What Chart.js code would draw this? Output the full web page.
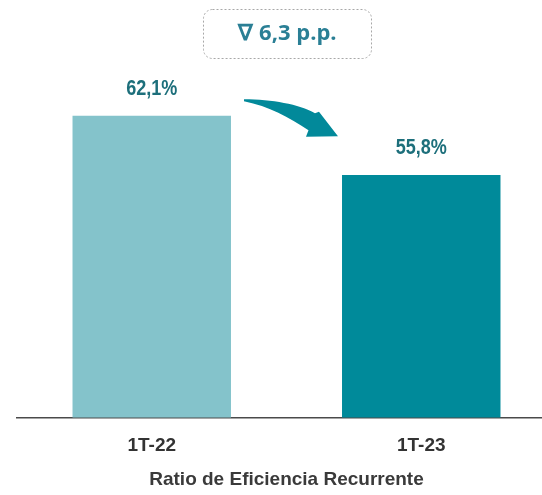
<!DOCTYPE html>
<html>
<head>
<meta charset="utf-8">
<script src="https://cdn.jsdelivr.net/npm/chart.js@4/dist/chart.umd.min.js"></script>
<style>
  html, body { margin: 0; padding: 0; background: #fff; overflow: hidden; }
  #wrap { width: 542px; height: 495px; overflow: hidden; }
</style>
</head>
<body>
<div id="wrap"><canvas id="c" width="556" height="495"></canvas></div>
<script>
const categories = ['1T-22', '1T-23']
const values = [62.1, 55.8]
const valueLabels = ['62,1%', '55,8%']
const deltaLabel = '∇ 6,3 p.p.'
const axisTitle = 'Ratio de Eficiencia Recurrente'

const SANS = '"Liberation Sans", Arial, sans-serif'
const LABEL_COLOR = '#1d6f7b'
const ARROW_COLOR = '#02899a'

// narrow look: draw Liberation Sans squeezed horizontally
function narrowText(ctx, text, x, y, size) {
  ctx.save()
  ctx.translate(x, y)
  ctx.scale(0.82, 1)
  ctx.font = 'bold ' + size + 'px ' + SANS
  ctx.textAlign = 'center'
  ctx.textBaseline = 'middle'
  ctx.fillText(text, 0, 0)
  ctx.restore()
}

const decorations = {
  id: 'decorations',
  afterDatasetsDraw(chart) {
    const ctx = chart.ctx
    const bars = chart.getDatasetMeta(0).data

    // value labels above bars
    ctx.save()
    ctx.fillStyle = LABEL_COLOR
    bars.forEach((b, i) => narrowText(ctx, valueLabels[i], b.x, b.y - 27, 22))
    ctx.restore()

    // curved arrow from first bar towards second
    const b1 = bars[0]
    const ox = b1.x + b1.width / 2 + 13
    const oy = b1.y - 16.5
    const p = (dx, dy) => [ox + dx, oy + dy]
    ctx.save()
    ctx.fillStyle = ARROW_COLOR
    ctx.beginPath()
    ctx.moveTo(...p(0, 0))
    ctx.bezierCurveTo(...p(28, 0), ...p(55, 5), ...p(71, 14))
    ctx.lineTo(...p(75, 12.5))
    ctx.lineTo(...p(94, 37))
    ctx.lineTo(...p(62, 37.5))
    ctx.lineTo(...p(64.5, 31))
    ctx.bezierCurveTo(...p(45, 18), ...p(25, 7), ...p(0, 2))
    ctx.closePath()
    ctx.fill()
    ctx.restore()

    // delta box
    const bx = 203.5, by = 9.5, bw = 168, bh = 49, r = 9
    ctx.save()
    ctx.strokeStyle = '#a8a8a8'
    ctx.lineWidth = 1
    ctx.setLineDash([2, 2])
    ctx.beginPath()
    ctx.roundRect(bx, by, bw, bh, r)
    ctx.stroke()
    ctx.setLineDash([])
    ctx.fillStyle = '#2a7f95'
    ctx.font = 'bold 22px "Open Sans", sans-serif'
    ctx.textAlign = 'center'
    ctx.textBaseline = 'middle'
    ctx.fillText(deltaLabel, bx + bw / 2, 34)
    ctx.restore()
  }
}

new Chart(document.getElementById('c'), {
  type: 'bar',
  data: {
    labels: categories,
    datasets: [{
      data: values,
      backgroundColor: ['#84c3cb', '#008a9a'],
      borderWidth: 0,
      barPercentage: 0.588,
      categoryPercentage: 1,
    }],
  },
  options: {
    responsive: false,
    animation: false,
    layout: { padding: { left: 17, right: 0, top: 79, bottom: 4 } },
    plugins: {
      legend: { display: false },
      tooltip: { enabled: false },
    },
    scales: {
      x: {
        grid: { display: false },
        border: { display: true, color: '#4a4a4a', width: 1.5 },
        ticks: {
          color: '#333',
          font: { family: SANS, size: 19, weight: 'bold' },
          padding: 9,
        },
        title: {
          display: true,
          text: axisTitle,
          color: '#3a3a3a',
          font: { family: SANS, size: 19, weight: 'bold' },
          padding: { top: 2, bottom: 0 },
        },
      },
      y: {
        display: false,
        min: 30,
        max: 66,
      },
    },
  },
  plugins: [decorations],
})
</script>
</body>
</html>
